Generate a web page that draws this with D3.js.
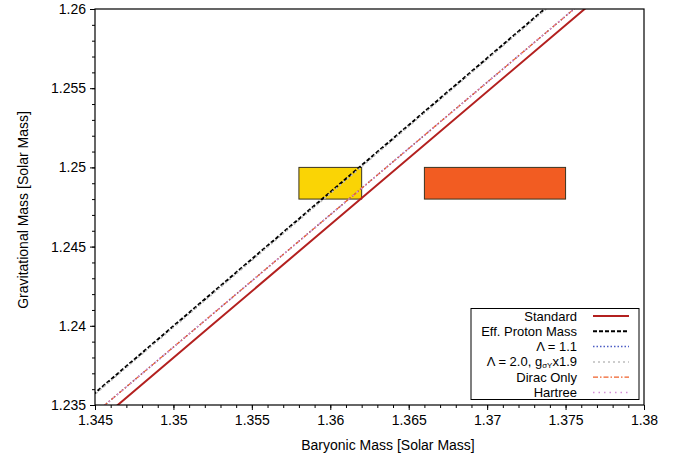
<!DOCTYPE html>
<html>
<head>
<meta charset="UTF-8">
<title>Gravitational vs Baryonic Mass</title>
<script src="https://d3js.org/d3.v7.min.js"></script>
<style>
  body { margin: 0; background: #fff; }
  text { font-family: "Liberation Sans", Arial, Helvetica, sans-serif; }
</style>
</head>
<body>
<script>
var w = 692, h = 461;
var margin = {left: 95, top: 9, right: 48, bottom: 56};

// series: [baryonic, gravitational] pairs
var standard   = [[1.344, 1.23294], [1.35227, 1.23989], [1.378, 1.26150]];
var effProton  = [[1.344, 1.23491], [1.34989, 1.23989], [1.378, 1.26366]];
var lambda11   = [[1.344, 1.23364], [1.35148, 1.23989], [1.378, 1.26206]];
var lambda20   = [[1.3441, 1.23491], [1.3500, 1.23989], [1.3781, 1.26366]];
var diracOnly  = [[1.344, 1.23364], [1.35148, 1.23989], [1.378, 1.26206]];
var hartree    = [[1.344, 1.23364], [1.35148, 1.23989], [1.378, 1.26206]];

// observation boxes: [xMin, xMax, yMin, yMax]
var boxYellow = [1.358, 1.362, 1.248, 1.250];
var boxOrange = [1.366, 1.375, 1.248, 1.250];

var xTicks = [1.345, 1.35, 1.355, 1.36, 1.365, 1.37, 1.375, 1.38];
var yTicks = [1.235, 1.24, 1.245, 1.25, 1.255, 1.26];
var legendNames = ["Standard", "Eff. Proton Mass", "\u039B = 1.1", "lambda20", "Dirac Only", "Hartree"];

var series = [
  {data: standard,  color: "#b3201f", width: 2,   dash: null},
  {data: effProton, color: "#000000", width: 2,   dash: "4,2"},
  {data: lambda20,  color: "#bdbdbd", width: 1.5, dash: "2,3"},
  {data: lambda11,  color: "#4b5cc4", width: 1.5, dash: "1.5,2"},
  {data: diracOnly, color: "#f0602a", width: 1.2, dash: "5,2,1.5,2"},
  {data: hartree,   color: "#d48fd6", width: 1.5, dash: "1.5,4"}
];

var svg = d3.select("body").append("svg")
  .attr("width", w).attr("height", h);

var pw = w - margin.left - margin.right;
var ph = h - margin.top - margin.bottom;

var x = d3.scaleLinear().domain([1.345, 1.38]).range([margin.left, margin.left + pw]);
var y = d3.scaleLinear().domain([1.235, 1.26]).range([margin.top + ph, margin.top]);

svg.append("clipPath").attr("id", "clip")
  .append("rect")
  .attr("x", margin.left).attr("y", margin.top)
  .attr("width", pw).attr("height", ph);

var fmt = function(d){ return String(+d.toFixed(3)); };

// minor ticks
var xMinor = d3.range(1.345, 1.3805, 0.001);
var yMinor = d3.range(1.235, 1.2605, 0.001);

svg.append("g")
  .attr("transform", "translate(0," + (margin.top + ph) + ")")
  .call(d3.axisBottom(x).tickValues(xMinor).tickSize(3).tickFormat(""))
  .call(function(g){ g.select(".domain").remove(); });

svg.append("g")
  .attr("transform", "translate(" + margin.left + ",0)")
  .call(d3.axisLeft(y).tickValues(yMinor).tickSize(3).tickFormat(""))
  .call(function(g){ g.select(".domain").remove(); });

// major ticks
var xAxis = svg.append("g")
  .attr("transform", "translate(0," + (margin.top + ph) + ")")
  .call(d3.axisBottom(x).tickValues(xTicks).tickSize(5).tickPadding(5).tickFormat(fmt));
xAxis.select(".domain").remove();
xAxis.selectAll("text").attr("font-size", 14).attr("fill", "#000")
  .style("font-family", "'Liberation Sans', Arial, sans-serif");

var yAxis = svg.append("g")
  .attr("transform", "translate(" + margin.left + ",0)")
  .call(d3.axisLeft(y).tickValues(yTicks).tickSize(5).tickPadding(4).tickFormat(fmt));
yAxis.select(".domain").remove();
yAxis.selectAll("text").attr("font-size", 14).attr("fill", "#000")
  .style("font-family", "'Liberation Sans', Arial, sans-serif");

// boxes
function drawBox(b, fill){
  svg.append("rect")
    .attr("x", x(b[0])).attr("y", y(b[3]))
    .attr("width", x(b[1]) - x(b[0]))
    .attr("height", y(b[2]) - y(b[3]))
    .attr("fill", fill)
    .attr("stroke", "#3a3320")
    .attr("stroke-width", 1);
}
drawBox(boxYellow, "#fad405");
drawBox(boxOrange, "#f25c22");

// lines
var line = d3.line()
  .x(function(d){ return x(d[0]); })
  .y(function(d){ return y(d[1]); });

svg.append("g").attr("clip-path", "url(#clip)")
  .selectAll("path")
  .data(series)
  .enter()
  .append("path")
  .attr("d", function(d){ return line(d.data); })
  .attr("fill", "none")
  .attr("stroke", function(d){ return d.color; })
  .attr("stroke-width", function(d){ return d.width; })
  .attr("stroke-dasharray", function(d){ return d.dash; });

// frame
svg.append("rect")
  .attr("x", margin.left).attr("y", margin.top)
  .attr("width", pw).attr("height", ph)
  .attr("fill", "none").attr("stroke", "#000").attr("stroke-width", 1.2);

// axis titles
svg.append("text")
  .attr("x", 388).attr("y", 450)
  .attr("text-anchor", "middle")
  .attr("font-size", 14)
  .text("Baryonic Mass [Solar Mass]");

svg.append("text")
  .attr("transform", "translate(28,210) rotate(-90)")
  .attr("text-anchor", "middle")
  .attr("font-size", 14)
  .text("Gravitational Mass [Solar Mass]");

// legend
var legStyles = [series[0], series[1], series[3], series[2], series[4], series[5]];
var lg = svg.append("g");
lg.append("rect")
  .attr("x", 471).attr("y", 308.5)
  .attr("width", 168).attr("height", 91)
  .attr("fill", "#fff").attr("stroke", "#000").attr("stroke-width", 1);

legendNames.forEach(function(name, i){
  var cy = 316 + i * 15.3;
  var t = lg.append("text")
    .attr("x", 577).attr("y", cy)
    .attr("dy", "0.35em")
    .attr("text-anchor", "end")
    .attr("font-size", 13);
  if (name === "lambda20") {
    t.append("tspan").text("\u039B = 2.0, g");
    t.append("tspan").attr("font-size", 8).attr("dy", 2).text("\u03C3Y");
    t.append("tspan").attr("dy", -2).text("x1.9");
  } else {
    t.text(name);
  }
  var s = legStyles[i];
  lg.append("line")
    .attr("x1", 593).attr("x2", 629)
    .attr("y1", cy).attr("y2", cy)
    .attr("stroke", s.color)
    .attr("stroke-width", s.width)
    .attr("stroke-dasharray", s.dash);
});
</script>
</body>
</html>
